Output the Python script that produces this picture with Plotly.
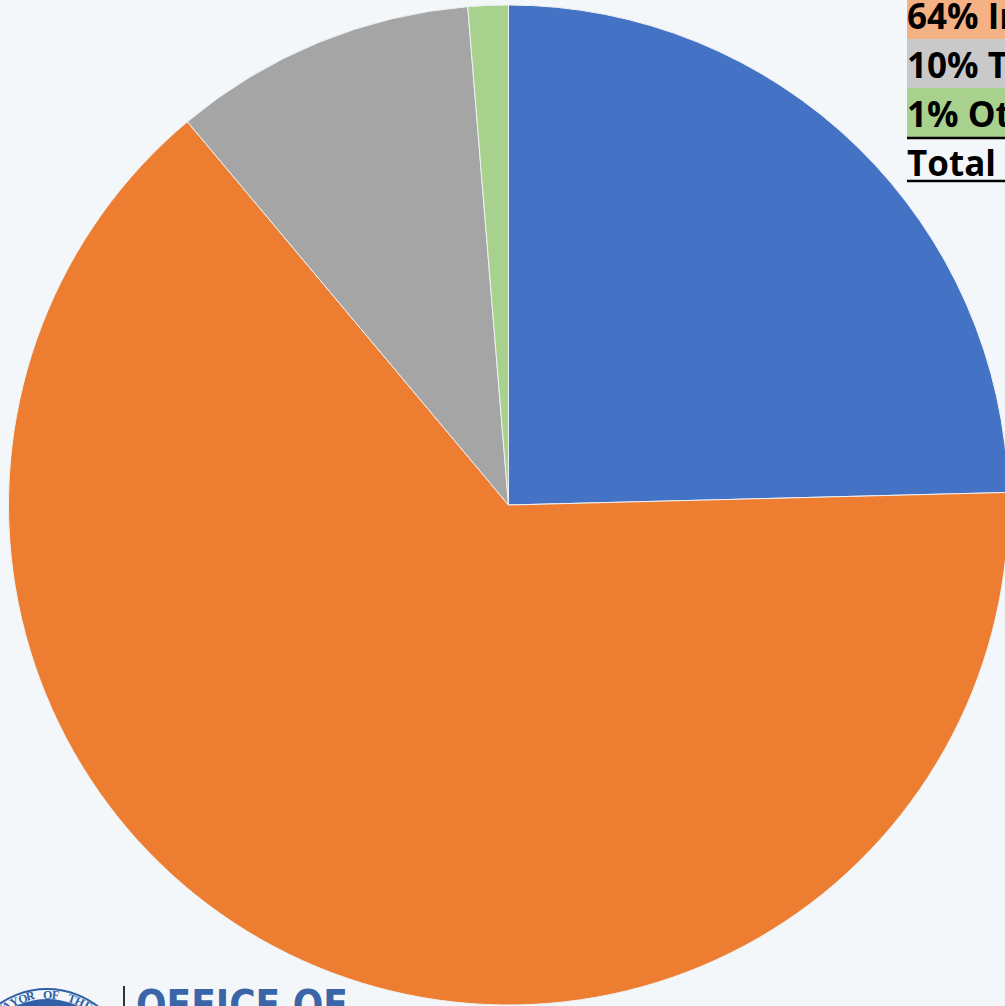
import math
import plotly.graph_objects as go

# Share of each category (percent), drawn clockwise from 12 o'clock
categories = ["Personnel", "Infrastructure", "Technology", "Other"]
shares = [24.6, 64.3, 9.8, 1.3]
slice_colors = ["#4472C4", "#ED7D31", "#A5A5A5", "#A9D18E"]

# Key rows in the upper-right corner
key_labels = ["64% Infrastructure", "10% Technology", "1% Other", "Total Investment"]
key_fills = ["#F4B183", "#C9C9C9", "#A9D18E", None]

W, H = 1010, 1006
BG = "#F4F7F9"
SEAL_BLUE = "#2F5FA6"


def px(x):
    return x / W


def py(y):
    return 1 - y / H


fig = go.Figure()
fig.add_trace(go.Pie(
    labels=categories,
    values=shares,
    sort=False,
    direction="clockwise",
    rotation=0,
    marker=dict(colors=slice_colors, line=dict(color="#EEF1F3", width=1)),
    textinfo="none",
    hoverinfo="label+percent",
    showlegend=False,
    domain=dict(x=[px(8.5), px(1008.5)], y=[py(1005), py(5)]),
))

shapes = []
annotations = []

# Key: highlighted rows of bold text
row_top = [-10, 39, 88, 137]
row_h = 49
for label, fill, top in zip(key_labels, key_fills, row_top):
    if fill:
        shapes.append(dict(type="rect", xref="paper", yref="paper",
                           x0=px(907), x1=px(1010), y0=py(top + row_h), y1=py(top),
                           fillcolor=fill, line=dict(width=0), layer="above"))
    annotations.append(dict(
        text=f"<b>{label}</b>", xref="paper", yref="paper",
        x=px(905), y=py(top + row_h / 2 + 1), xanchor="left", yanchor="middle",
        showarrow=False, font=dict(family="Open Sans", size=35, color="#000000"),
    ))
# Rules under the last coloured row and under the total
for yl in (138, 181):
    shapes.append(dict(type="line", xref="paper", yref="paper",
                       x0=px(907), x1=px(1010), y0=py(yl), y1=py(yl),
                       line=dict(color="#000000", width=2.5), layer="above"))

# Seal in the lower-left corner
cx, cy = 47, 1072
for r, fill, lw in ((83, BG, 2), (73, SEAL_BLUE, 0)):
    shapes.append(dict(type="circle", xref="paper", yref="paper",
                       x0=px(cx - r), x1=px(cx + r), y0=py(cy + r), y1=py(cy - r),
                       fillcolor=fill, line=dict(color=SEAL_BLUE, width=lw), layer="above"))
seal_text = "MAYOR OF THE"
r_text = 77.5
step = 6.3
start = -step * (len(seal_text) - 1) / 2 - 3
for i, ch in enumerate(seal_text):
    if ch == " ":
        continue
    a = math.radians(start + i * step)
    x = cx + r_text * math.sin(a)
    y = cy - r_text * math.cos(a)
    annotations.append(dict(
        text=f"<b>{ch}</b>", xref="paper", yref="paper", x=px(x), y=py(y),
        xanchor="center", yanchor="middle", showarrow=False,
        textangle=math.degrees(a),
        font=dict(family="Liberation Serif", size=12, color=SEAL_BLUE),
    ))

# Divider and office name
shapes.append(dict(type="line", xref="paper", yref="paper",
                   x0=px(124), x1=px(124), y0=py(1010), y1=py(986),
                   line=dict(color="#333333", width=2), layer="above"))
annotations.append(dict(
    text="<b>OFFICE OF</b>", xref="paper", yref="paper",
    x=px(134), y=py(980), xanchor="left", yanchor="top", showarrow=False,
    font=dict(family="DejaVu Sans Condensed, Liberation Sans Narrow, Roboto",
              size=40, color="#3A66A8"),
))

fig.update_layout(
    width=W, height=H, autosize=False,
    margin=dict(l=0, r=0, t=0, b=0, pad=0),
    paper_bgcolor=BG, plot_bgcolor=BG,
    shapes=shapes, annotations=annotations,
)

fig.write_html(
    "out.html",
    post_script="document.documentElement.style.overflow='hidden';document.body.style.overflow='hidden';document.body.style.margin='0';",
)
